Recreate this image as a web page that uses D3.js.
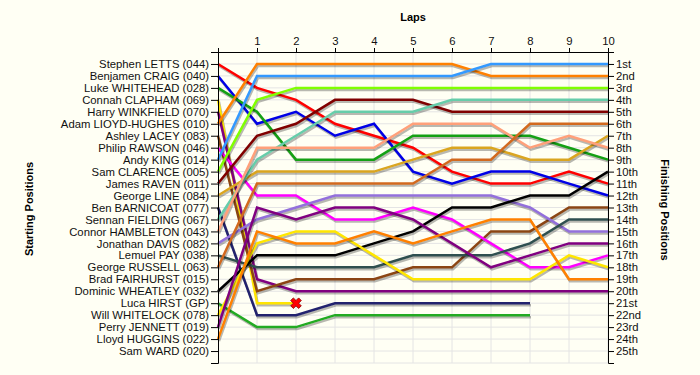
<!DOCTYPE html>
<html>
<head>
<meta charset="utf-8">
<script src="https://cdn.jsdelivr.net/npm/d3@7"></script>
<style>
  body { margin: 0; background: #FFFFF4; }
  svg { display: block; font-family: Arial, "Liberation Sans", sans-serif; }
</style>
</head>
<body>
<svg></svg>
<script>
// grid order, top to bottom
const startingGrid = [
  "Stephen LETTS (044)", "Benjamen CRAIG (040)", "Luke WHITEHEAD (028)", "Connah CLAPHAM (069)",
  "Harry WINKFIELD (070)", "Adam LIOYD-HUGHES (010)", "Ashley LACEY (083)", "Philip RAWSON (046)",
  "Andy KING (014)", "Sam CLARENCE (005)", "James RAVEN (011)", "George LINE (084)",
  "Ben BARNICOAT (077)", "Sennan FIELDING (067)", "Connor HAMBLETON (043)", "Jonathan DAVIS (082)",
  "Lemuel PAY (038)", "George RUSSELL (063)", "Brad FAIRHURST (015)", "Dominic WHEATLEY (032)",
  "Luca HIRST (GP)", "Will WHITELOCK (078)", "Perry JENNETT (019)", "Lloyd HUGGINS (022)",
  "Sam WARD (020)"
]

const finishLabels = [
  "1st", "2nd", "3rd", "4th", "5th", "6th", "7th", "8th", "9th", "10th", "11th", "12th", "13th",
  "14th", "15th", "16th", "17th", "18th", "19th", "20th", "21st", "22nd", "23rd", "24th", "25th"
]

const lapTicks = [1, 2, 3, 4, 5, 6, 7, 8, 9, 10]

// position at lap 0 (grid), lap 1, lap 2 ...
const letts       = [1, 3, 4, 6, 7, 8, 10, 11, 11, 10, 11]
const craig       = [2, 6, 5, 7, 6, 10, 11, 10, 10, 11, 12]
const whitehead   = [3, 5, 9, 9, 9, 7, 7, 7, 7, 8, 9]
const clapham     = [4, 21, 21]
const winkfield   = [5, 19, 20, 20, 20, 20, 20, 20, 20, 20, 20]
const lloydHughes = [6, 1, 1, 1, 1, 1, 1, 2, 2, 2, 2]
const lacey       = [7, 20, 19, 19, 19, 18, 18, 15, 15, 13, 13]
const rawson      = [8, 12, 12, 14, 14, 13, 14, 16, 18, 18, 17]
const king        = [9, 2, 2, 2, 2, 2, 2, 1, 1, 1, 1]
const clarence    = [10, 4, 3, 3, 3, 3, 3, 3, 3, 3, 3]
const raven       = [11, 7, 6, 4, 4, 4, 5, 5, 5, 5, 5]
const line        = [12, 10, 10, 10, 10, 9, 8, 8, 9, 9, 7]
const barnicoat   = [13, 22, 22, 21, 21, 21, 21, 21, 21]
const fielding    = [14, 9, 7, 5, 5, 5, 4, 4, 4, 4, 4]
const hambleton   = [15, 8, 8, 8, 8, 6, 6, 6, 8, 7, 8]
const davis       = [16, 14, 13, 12, 12, 12, 12, 12, 13, 15, 15]
const pay         = [17, 18, 18, 18, 18, 17, 17, 17, 16, 14, 14]
const russell     = [18, 11, 11, 11, 11, 11, 9, 9, 6, 6, 6]
const wheatley    = [20, 17, 17, 17, 16, 15, 13, 13, 12, 12, 10]
const hirst       = [21, 23, 23, 22, 22, 22, 22, 22, 22]
const whitelock   = [22, 16, 15, 15, 17, 19, 19, 19, 19, 17, 18]
const jennett     = [23, 13, 14, 13, 13, 14, 16, 18, 17, 16, 16]
const huggins     = [24, 15, 16, 16, 15, 16, 15, 14, 14, 19, 19]

const retired = ["clapham"]

const series = [
  { id: "letts", laps: letts, colour: "#FF0000" },
  { id: "craig", laps: craig, colour: "#0000E6" },
  { id: "whitehead", laps: whitehead, colour: "#14A014" },
  { id: "clapham", laps: clapham, colour: "#FFE400" },
  { id: "winkfield", laps: winkfield, colour: "#800080" },
  { id: "lloydHughes", laps: lloydHughes, colour: "#FF8000" },
  { id: "lacey", laps: lacey, colour: "#8B4513" },
  { id: "rawson", laps: rawson, colour: "#FF00FF" },
  { id: "king", laps: king, colour: "#3399FF" },
  { id: "clarence", laps: clarence, colour: "#80FF00" },
  { id: "raven", laps: raven, colour: "#800000" },
  { id: "line", laps: line, colour: "#DAA520" },
  { id: "barnicoat", laps: barnicoat, colour: "#22226E" },
  { id: "fielding", laps: fielding, colour: "#66CDAA" },
  { id: "hambleton", laps: hambleton, colour: "#FFA07A" },
  { id: "davis", laps: davis, colour: "#9370DB" },
  { id: "pay", laps: pay, colour: "#2F4F4F" },
  { id: "russell", laps: russell, colour: "#D2691E" },
  { id: "wheatley", laps: wheatley, colour: "#000000" },
  { id: "hirst", laps: hirst, colour: "#22AA22" },
  { id: "whitelock", laps: whitelock, colour: "#FFE600" },
  { id: "jennett", laps: jennett, colour: "#800080" },
  { id: "huggins", laps: huggins, colour: "#FF8000" }
]

let width = 700
let height = 375
let plotLeft = 218
let plotRight = 608
let plotTop = 52
let plotBottom = 363

let svg = d3.select("svg")
    .attr("width", width)
    .attr("height", height)

svg.append("rect")
    .attr("width", width)
    .attr("height", height)
    .attr("fill", "#FFFFF4")

let xScale = d3.scaleLinear()
    .domain([0, 10])
    .range([plotLeft, plotRight])

let yScale = d3.scaleLinear()
    .domain([0, 26])
    .range([plotTop, plotBottom])

// grid
let grid = svg.append("g")
grid.selectAll(".hgrid")
    .data(d3.range(1, 27))
    .enter()
    .append("line")
    .attr("x1", plotLeft)
    .attr("x2", plotRight)
    .attr("y1", d => yScale(d))
    .attr("y2", d => yScale(d))
    .attr("stroke", "#E4E4E4")
    .attr("stroke-width", 1)
grid.selectAll(".vgrid")
    .data(lapTicks)
    .enter()
    .append("line")
    .attr("x1", d => xScale(d))
    .attr("x2", d => xScale(d))
    .attr("y1", plotTop)
    .attr("y2", plotBottom)
    .attr("stroke", "#E4E4E4")
    .attr("stroke-width", 1)

// lines
let lineGen = d3.line()
    .x((d, i) => xScale(i))
    .y(d => yScale(d))

let lines = svg.append("g")
series.forEach(s => {
    lines.append("path")
        .attr("d", lineGen(s.laps))
        .attr("fill", "none")
        .attr("stroke", "rgba(0,0,0,0.28)")
        .attr("stroke-width", 2.5)
        .attr("transform", "translate(1,2)")
    lines.append("path")
        .attr("d", lineGen(s.laps))
        .attr("fill", "none")
        .attr("stroke", s.colour)
        .attr("stroke-width", 2.5)
})

// retirement markers
series.filter(s => retired.includes(s.id)).forEach(s => {
    let lastLap = s.laps.length - 1
    svg.append("path")
        .attr("d", d3.symbol(d3.symbolCross, 70)())
        .attr("transform", "translate(" + xScale(lastLap) + "," + yScale(s.laps[lastLap]) + ") rotate(45)")
        .attr("fill", "#FF0000")
        .attr("stroke", "#8B0000")
        .attr("stroke-width", 0.8)
})

// axes
let topAxis = d3.axisTop(xScale)
    .tickValues(lapTicks)
    .tickSize(4)
    .tickSizeOuter(4)
    .tickPadding(3)

let leftAxis = d3.axisLeft(yScale)
    .tickValues(d3.range(1, 26))
    .tickFormat(d => startingGrid[d - 1])
    .tickSize(7)
    .tickSizeOuter(7)
    .tickPadding(2)

let rightAxis = d3.axisRight(yScale)
    .tickValues(d3.range(1, 26))
    .tickFormat(d => finishLabels[d - 1])
    .tickSize(6)
    .tickSizeOuter(6)
    .tickPadding(2)

svg.append("g")
    .attr("transform", "translate(0," + plotTop + ")")
    .call(topAxis)
svg.append("g")
    .attr("transform", "translate(" + plotLeft + ",0)")
    .call(leftAxis)
svg.append("g")
    .attr("transform", "translate(" + plotRight + ",0)")
    .call(rightAxis)

svg.selectAll(".tick text")
    .attr("font-size", 11.3)
    .attr("font-family", "Arial, 'Liberation Sans', sans-serif")
    .attr("fill", "#111")
svg.selectAll(".domain, .tick line")
    .attr("stroke", "#000")

// titles
svg.append("text")
    .attr("x", (plotLeft + plotRight) / 2)
    .attr("y", 21)
    .attr("text-anchor", "middle")
    .attr("font-size", 11)
    .attr("font-weight", "bold")
    .text("Laps")

svg.append("text")
    .attr("transform", "translate(33,209) rotate(-90)")
    .attr("text-anchor", "middle")
    .attr("font-size", 11)
    .attr("font-weight", "bold")
    .text("Starting Positions")

svg.append("text")
    .attr("transform", "translate(661,210) rotate(90)")
    .attr("text-anchor", "middle")
    .attr("font-size", 11)
    .attr("font-weight", "bold")
    .text("Finishing Positions")
</script>
</body>
</html>
